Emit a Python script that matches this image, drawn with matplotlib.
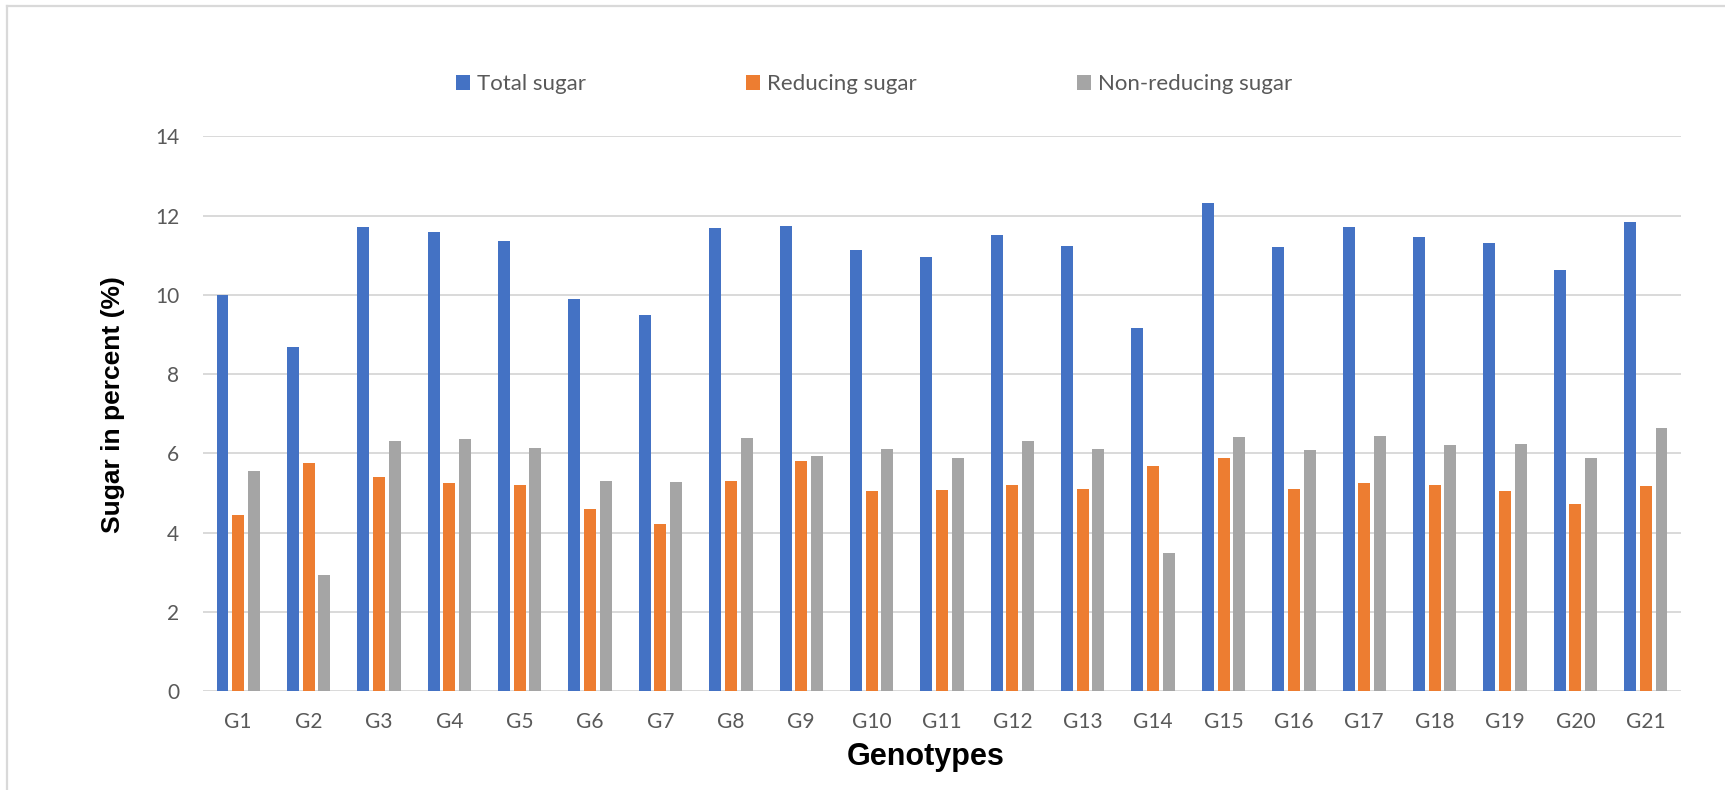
import matplotlib
matplotlib.use("Agg")
import matplotlib.pyplot as plt
from matplotlib.lines import Line2D
import numpy as np

# Sugar content per genotype (%)
genotypes = [f"G{i}" for i in range(1, 22)]
total_sugar = [10.00, 8.68, 11.70, 11.58, 11.35, 9.90, 9.49, 11.68, 11.73, 11.14, 10.95,
               11.50, 11.23, 9.16, 12.32, 11.20, 11.70, 11.45, 11.30, 10.62, 11.83]
reducing_sugar = [4.45, 5.75, 5.40, 5.24, 5.21, 4.59, 4.21, 5.30, 5.80, 5.04, 5.07,
                  5.19, 5.11, 5.68, 5.89, 5.11, 5.25, 5.21, 5.06, 4.72, 5.17]
non_reducing_sugar = [5.55, 2.93, 6.30, 6.35, 6.14, 5.30, 5.28, 6.38, 5.93, 6.10, 5.87,
                      6.30, 6.11, 3.48, 6.42, 6.09, 6.44, 6.22, 6.23, 5.89, 6.64]
series_names = ["Total sugar", "Reducing sugar", "Non-reducing sugar"]
y_ticks = [0, 2, 4, 6, 8, 10, 12, 14]

colors = ["#4472C4", "#ED7D31", "#A5A5A5"]
tick_color = "#595959"
grid_color = "#D9D9D9"
body_font = "Lato"
title_font = "Liberation Sans"

W, H = 1725, 790
fig = plt.figure(figsize=(W / 100, H / 100), dpi=100)
ax = fig.add_axes([203 / W, 1 - 691 / H, (1681 - 203) / W, (691 - 136.3) / H])

x = np.arange(len(genotypes))
step = 0.223
width = 0.17
handles = []
for k, (vals, name, col) in enumerate(zip([total_sugar, reducing_sugar, non_reducing_sugar],
                                          series_names, colors)):
    b = ax.bar(x + (k - 1) * step, vals, width=width, color=col, label=name, zorder=3)
    handles.append(b)

ax.set_xlim(-0.5, len(genotypes) - 0.5)
ax.set_ylim(0, 14)
ax.set_yticks(y_ticks)
ax.set_xticks(x)
ax.set_xticklabels(genotypes)

for s in ax.spines.values():
    s.set_visible(False)
ax.yaxis.grid(True, color=grid_color, linewidth=1.4, zorder=0)
ax.set_axisbelow(True)
ax.tick_params(axis="both", length=0, colors=tick_color, labelsize=15)
ax.tick_params(axis="y", pad=17)
ax.tick_params(axis="x", pad=15)
for lbl in ax.get_xticklabels() + ax.get_yticklabels():
    lbl.set_fontfamily(body_font)
    lbl.set_color(tick_color)

ax.set_ylabel("Sugar in percent (%)", fontsize=19, fontweight="bold",
              family=title_font, color="black")
ax.yaxis.set_label_coords(-0.053, 0.517)
ax.set_xlabel("Genotypes", fontsize=22, fontweight="bold", family=title_font,
              color="black")
ax.xaxis.set_label_coords(0.489, -0.092)

leg = fig.legend(handles=handles, labels=series_names, loc="center",
                 bbox_to_anchor=(874 / W, 1 - 84 / H), ncol=3, frameon=False,
                 prop={"family": body_font, "size": 16}, columnspacing=7.2,
                 handlelength=0.65, handleheight=0.65, handletextpad=0.3)
for t in leg.get_texts():
    t.set_color(tick_color)

# Light chart-area border (top and left edges)
fig.add_artist(Line2D([7 / W, 7 / W], [0, 1 - 5.5 / H], transform=fig.transFigure,
                      color=grid_color, linewidth=1.6))
fig.add_artist(Line2D([7 / W, 1], [1 - 5.5 / H, 1 - 5.5 / H], transform=fig.transFigure,
                      color=grid_color, linewidth=1.6))

fig.savefig("out.png", dpi=100, facecolor="white")
